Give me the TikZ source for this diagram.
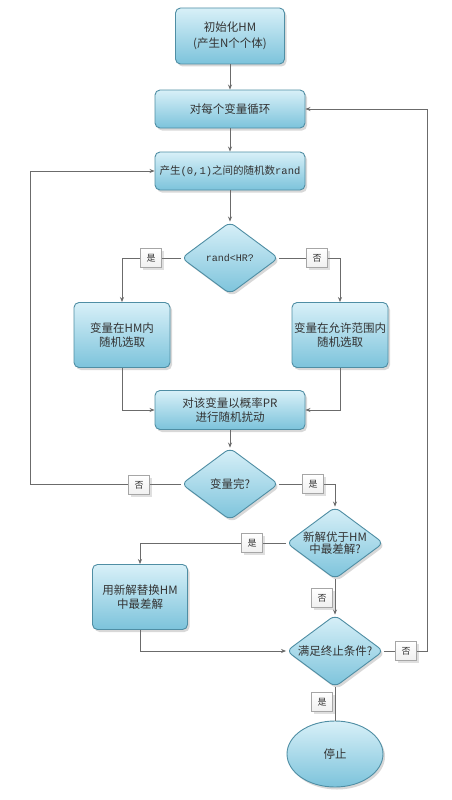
\documentclass[tikz,border=0pt]{standalone}
\usepackage{fontspec}
\setmainfont{Noto Sans CJK SC}
\newfontfamily\monof{Liberation Mono}
\usetikzlibrary{shapes.geometric,shadows,arrows.meta}
\definecolor{bord}{HTML}{4F8EA4}
\definecolor{ctop}{HTML}{D8F0F8}
\definecolor{cbot}{HTML}{7CC3DB}
\definecolor{lin}{HTML}{6B6B6B}
\definecolor{txt}{HTML}{333333}
\tikzset{
 myshadow/.style={drop shadow={opacity=0.3,shadow xshift=2pt,shadow yshift=-2.5pt}},
 flowbox/.style={draw=bord, line width=0.9pt, rounded corners=5pt, top color=ctop, bottom color=cbot,
   align=center, inner sep=1pt, myshadow, text=txt, font=\fontsize{11.5}{13.5}\selectfont},
 flowdia/.style={diamond, shape aspect=1.33, draw=bord, line width=0.9pt, rounded corners=6pt,
   top color=ctop, bottom color=cbot, align=center, inner sep=0pt, myshadow, text=txt,
   minimum width=97pt, minimum height=72pt, font=\fontsize{11.5}{12.5}\selectfont},
 flowend/.style={ellipse, draw=bord, line width=0.9pt, top color=ctop, bottom color=cbot,
   minimum width=96pt, minimum height=66pt, myshadow, text=txt, font=\fontsize{11.5}{13.5}\selectfont},
 flowlbl/.style={draw=gray!70, top color=white, bottom color=gray!12, minimum width=21pt,
   minimum height=19pt, inner sep=0pt, drop shadow={opacity=0.25,shadow xshift=2pt,shadow yshift=-2pt},
   text=txt, font=\fontsize{9}{10}\selectfont},
 flowline/.style={draw=lin, line width=0.7pt},
 flowarr/.style={flowline, -{Stealth[length=5pt,width=4pt]}}
}
\begin{document}
\begin{tikzpicture}[x=1pt,y=-1pt]
\useasboundingbox[fill=white] (0,0) rectangle (451,800);
\node[flowbox, minimum width=109pt, minimum height=56pt, font=\fontsize{11.5}{16.5}\selectfont] (b1) at (230,36) {初始化HM\\(产生N个个体)};
\node[flowbox, minimum width=150pt, minimum height=38pt] (b2) at (230,109) {对每个变量循环};
\node[flowbox, minimum width=150pt, minimum height=38pt, font=\fontsize{10.5}{12}\selectfont] (b3) at (230,171) {产生{\monof (0,1)}之间的随机数{\monof rand}};
\node[flowdia] (d1) at (230,258) {{\monof\fontsize{10}{11}\selectfont rand<HR?}};
\node[flowbox, minimum width=96pt, minimum height=65pt] (l1) at (122,335) {变量在HM内\\随机选取};
\node[flowbox, minimum width=96pt, minimum height=65pt] (r1) at (340,335) {变量在允许范围内\\随机选取};
\node[flowbox, minimum width=150pt, minimum height=39pt] (b4) at (230,410) {对该变量以概率PR\\进行随机扰动};
\node[flowdia] (d2) at (230,484) {变量完?};
\node[flowdia] (d3) at (335,543) {新解优于HM\\中最差解?};
\node[flowbox, minimum width=95pt, minimum height=65pt] (b5) at (140,597) {用新解替换HM\\中最差解};
\node[flowdia] (d4) at (335,651) {满足终止条件?};
\node[flowend] (e) at (335,754) {停止};
\coordinate (lx) at (30,0);
\coordinate (rx) at (427,0);
\draw[flowarr] (b1) -- (b2);
\draw[flowarr] (b2) -- (b3);
\draw[flowarr] (b3) -- (d1);
\draw[flowarr] (d1.west) -| (l1.north);
\draw[flowarr] (d1.east) -| (r1.north);
\draw[flowarr] (l1.south) |- (b4.west);
\draw[flowarr] (r1.south) |- (b4.east);
\draw[flowarr] (b4) -- (d2);
\draw[flowarr] (d2.west) -- (d2.west -| lx) |- (b3.west);
\draw[flowarr] (d2.east) -| (d3.north);
\draw[flowarr] (d3.west) -| (b5.north);
\draw[flowarr] (d3) -- (d4);
\draw[flowarr] (b5.south) |- (d4.west);
\draw[flowarr] (d4.east) -- (d4.east -| rx) |- (b2.east);
\draw[flowline] (d4) -- (e);
\node[flowlbl] (y1) at (151,258) {是};
\node[flowlbl] (n1) at (317,258) {否};
\node[flowlbl] (n2) at (139,485) {否};
\node[flowlbl] (y2) at (313,484) {是};
\node[flowlbl] (y3) at (252,543) {是};
\node[flowlbl] (n3) at (322,598) {否};
\node[flowlbl] (n4) at (406,651) {否};
\node[flowlbl] (y4) at (322,702) {是};
\end{tikzpicture}
\end{document}
